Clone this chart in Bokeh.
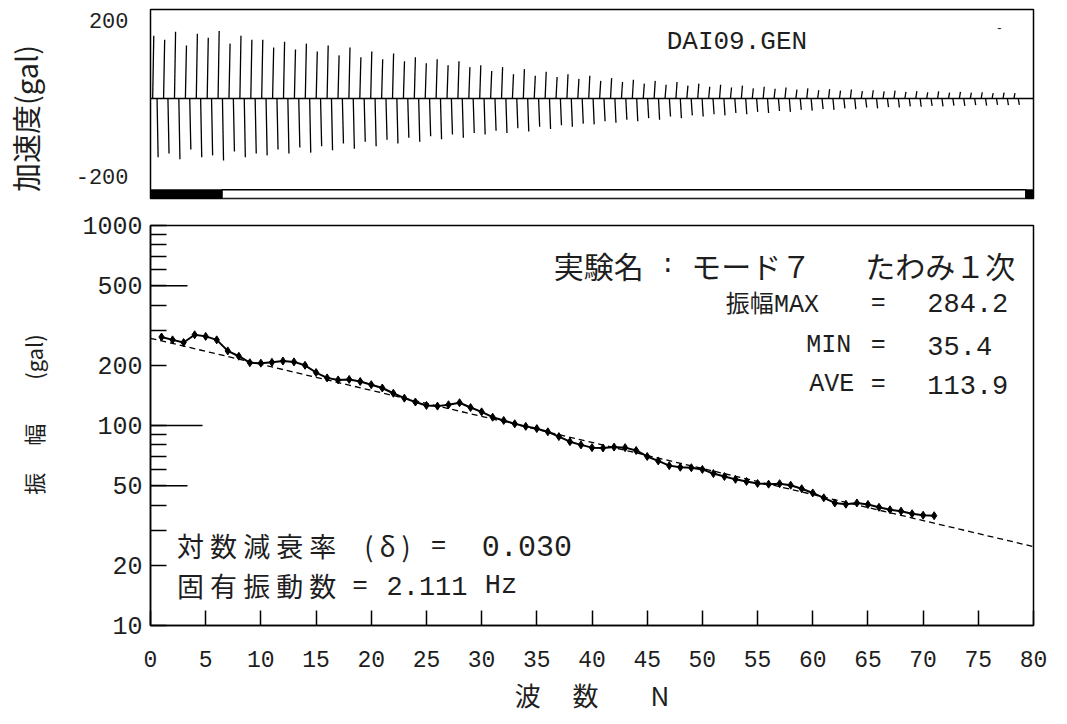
from bokeh.plotting import figure
from bokeh.layouts import column
from bokeh.models import Range1d, FixedTicker, PrintfTickFormatter, Span
from bokeh.embed import file_html
from bokeh.resources import INLINE
from bokeh.core.properties import value

# ---------------- data ----------------
# lower panel: amplitude (peak-to-peak, gal) of each wave N
wave_no = list(range(1, 72))
amplitude = [277, 268, 260, 284.2, 279, 268, 236, 222, 206, 205,
             207, 210, 208, 200, 184, 173, 169, 170, 166, 160,
             154, 145, 137, 131, 126, 125, 127, 130, 123, 117,
             110, 106, 102, 99, 96.5, 93, 88, 83, 80, 77.5,
             77.2, 78, 77.5, 75, 70, 66.5, 63, 61.8, 61.5, 60.3,
             57.5, 55.6, 53.8, 52.5, 51.3, 50.9, 51.2, 50.3, 48.3, 46,
             43.5, 41, 40.4, 41, 40.3, 39, 37.9, 37.3, 36.2, 35.6, 35.4]
# fitted decay line (end points)
fit_n = [0, 80]
fit_amp = [273, 24.8]

x_ticks = list(range(0, 85, 5))
y_major = [10, 20, 50, 100, 200, 500, 1000]
y_minor = [30, 40, 60, 70, 80, 90, 300, 400, 600, 700, 800, 900]
y_long = [50, 100, 500]
y_long_len = [37, 52, 37]

# upper panel: acceleration record, positive / negative peak of each cycle (gal)
acc_pos = [160, 150, 170, 135, 165, 155, 172, 140, 160, 150,
           150, 130, 145, 125, 140, 120, 135, 110, 130, 105,
           120, 100, 115, 95, 105, 90, 100, 85, 95, 80,
           85, 70, 80, 62, 75, 58, 68, 55, 62, 50,
           58, 45, 52, 42, 48, 38, 45, 35, 42, 33,
           38, 30, 35, 28, 33, 26, 30, 25, 28, 23,
           26, 21, 24, 20, 23, 19, 21, 18, 20, 17,
           19, 16, 18, 15, 17, 15, 16, 14, 15, 14]
acc_neg = [-150, -140, -155, -130, -150, -145, -158, -135, -150, -140,
           -145, -130, -140, -125, -138, -122, -132, -115, -128, -110,
           -122, -105, -115, -100, -110, -96, -104, -92, -100, -88,
           -92, -82, -88, -76, -84, -72, -78, -68, -72, -64,
           -66, -58, -62, -54, -58, -50, -54, -46, -50, -43,
           -46, -40, -43, -37, -40, -34, -37, -32, -34, -29,
           -31, -27, -29, -25, -27, -23, -25, -22, -23, -20,
           -21, -19, -20, -18, -19, -17, -18, -16, -17, -16]
top_ticks = [-200, 200]
window_start, window_end = 6.56, 80.3

INK = "#1e1e1e"
MONO = "Liberation Mono"
CJK = "Noto Sans CJK JP"
W = 1051
TOP_Y0, TOP_Y1 = -255, 227

# ---------------- upper panel ----------------
top = figure(width=W, height=208, x_range=Range1d(0, 81), y_range=Range1d(TOP_Y0, TOP_Y1),
             output_backend="svg", toolbar_location=None,
             min_border_left=142, min_border_right=7, min_border_top=9, min_border_bottom=10)
top.xaxis.visible = False
top.grid.visible = False
top.outline_line_color = "black"
top.outline_line_width = 1.5
ya = top.yaxis[0]
ya.ticker = FixedTicker(ticks=top_ticks)
ya.formatter = PrintfTickFormatter(format="%d")
ya.axis_line_color = None
ya.major_tick_line_color = None
ya.minor_tick_line_color = None
ya.major_tick_in = 0
ya.major_tick_out = 0
ya.major_label_standoff = 22
ya.major_label_text_font = MONO
ya.major_label_text_font_size = "22px"
ya.major_label_text_color = INK
ya.axis_label = "加速度(gal)\u3000"
ya.axis_label_text_font = CJK
ya.axis_label_text_font_size = "29px"
ya.axis_label_text_font_style = "normal"
ya.axis_label_text_color = INK
ya.axis_label_standoff = 27

cyc = list(range(len(acc_pos)))
top.add_layout(Span(location=0, dimension="width", line_color="black", line_width=1.5))
top.segment(x0=[c + 0.2 for c in cyc], y0=[0] * len(cyc), x1=[c + 0.3 for c in cyc], y1=acc_pos,
            line_color="black", line_width=1.3)
top.segment(x0=[c + 0.6 for c in cyc], y0=[0] * len(cyc), x1=[c + 0.7 for c in cyc], y1=acc_neg,
            line_color="black", line_width=1.3)

# analysis-window bar
top.quad(left=[0], right=[window_start], bottom=[TOP_Y0], top=[-233], color="black")
top.quad(left=[window_start], right=[window_end], bottom=[TOP_Y0], top=[-233],
         fill_color="white", line_color="black", line_width=1.5)
top.quad(left=[window_end], right=[81], bottom=[TOP_Y0], top=[-233], color="black")


def ttext(txt, px, py, size, font, align="center"):
    x = (px - 150) / (902 / 81)
    y = TOP_Y1 - (py - 10) * (TOP_Y1 - TOP_Y0) / 189
    top.text(x=[x], y=[y], text=[txt], text_font=value(font), text_font_size=f"{size}px",
             text_align=align, text_baseline="middle", text_color=INK)


ttext("DAI09.GEN", 749, 42, 26, MONO)
ttext("-", 1017, 28, 12, MONO)

# ---------------- lower panel ----------------
bot = figure(width=W, height=507, x_range=Range1d(0, 80), y_range=Range1d(10, 1000),
             y_axis_type="log", output_backend="svg", toolbar_location=None,
             min_border_left=135, min_border_right=18, min_border_top=17, min_border_bottom=88)
bot.grid.visible = False
bot.outline_line_color = "black"
bot.outline_line_width = 1.5

xa = bot.xaxis[0]
xa.ticker = FixedTicker(ticks=x_ticks)
xa.major_tick_in = 15
xa.major_tick_out = 0
xa.major_tick_line_width = 1.5
xa.minor_tick_line_color = None
xa.axis_line_width = 1.5
xa.major_label_standoff = 25
xa.major_label_text_font = MONO
xa.major_label_text_font_size = "23px"
xa.major_label_text_color = INK
xa.axis_label = "波\u3000 数\u3000\u3000N"
xa.axis_label_text_font = CJK
xa.axis_label_text_font_size = "26px"
xa.axis_label_text_font_style = "normal"
xa.axis_label_text_color = INK
xa.axis_label_standoff = 6

yb = bot.yaxis[0]
yb.ticker = FixedTicker(ticks=y_major, minor_ticks=y_minor)
yb.formatter = PrintfTickFormatter(format="%d")
yb.major_tick_in = 16
yb.major_tick_out = 0
yb.minor_tick_in = 16
yb.minor_tick_out = 0
yb.major_tick_line_width = 1.5
yb.minor_tick_line_width = 1.5
yb.axis_line_width = 1.5
yb.major_label_standoff = 8
yb.major_label_text_font = MONO
yb.major_label_text_font_size = "25px"
yb.major_label_text_color = INK
yb.axis_label = "\u3000振\u3000 幅\u3000\u3000(gal)"
yb.axis_label_text_font = CJK
yb.axis_label_text_font_size = "22px"
yb.axis_label_text_font_style = "normal"
yb.axis_label_text_color = INK
yb.axis_label_standoff = 30

# long ticks at 50, 100, 500
bot.ray(x=[0] * len(y_long), y=y_long, length=y_long_len, length_units="screen",
        angle=0, line_color="black", line_width=1.5)

bot.line(fit_n, fit_amp, line_color="black", line_width=1.3, line_dash="6 4")
bot.line(wave_no, amplitude, line_color="black", line_width=2)
bot.scatter(wave_no, amplitude, marker="diamond", size=8, color="black")

# page-pixel helper for annotation placement (frame: x 143..1041, y 226..628)
def btext(txt, px, py, size, font, align="left"):
    x = (px - 143) / 11.225
    y = 10 ** (1 + (628 - py) / 201)
    bot.text(x=[x], y=[y], text=[txt], text_font=value(font), text_font_size=f"{size}px",
             text_align=align, text_baseline="middle", text_color=INK)


btext("実験名", 553, 266, 30, CJK)
btext(":", 669, 266, 26, MONO, "center")
btext("モード７", 693, 266, 30, CJK)
btext("たわみ１次", 870, 266, 30, CJK)

btext("振幅", 728, 302, 24, CJK)
btext("MAX", 777, 306, 25, MONO)
btext("MIN", 810, 347, 25, MONO)
btext("AVE", 813, 386, 25, MONO)
for yy in (304, 347, 386):
    btext("=", 883, yy, 25, MONO, "center")
btext("284.2", 933, 304, 27, MONO)
btext("35.4", 933, 347, 27, MONO)
btext("113.9", 933, 386, 27, MONO)

btext("対 数 減 衰 率", 170, 548, 27, CJK)
btext("( δ )", 384, 548, 27, CJK, "center")
btext("=", 436, 548, 26, MONO, "center")
btext("0.030", 480, 548, 30, MONO)
btext("固 有 振 動 数", 170, 588, 27, CJK)
btext("=", 356, 588, 26, MONO, "center")
btext("2.111", 383, 588, 27, MONO)
btext("Hz", 483, 588, 27, MONO)

layout = column(top, bot)
open("out.html", "w").write(file_html(layout, INLINE))
